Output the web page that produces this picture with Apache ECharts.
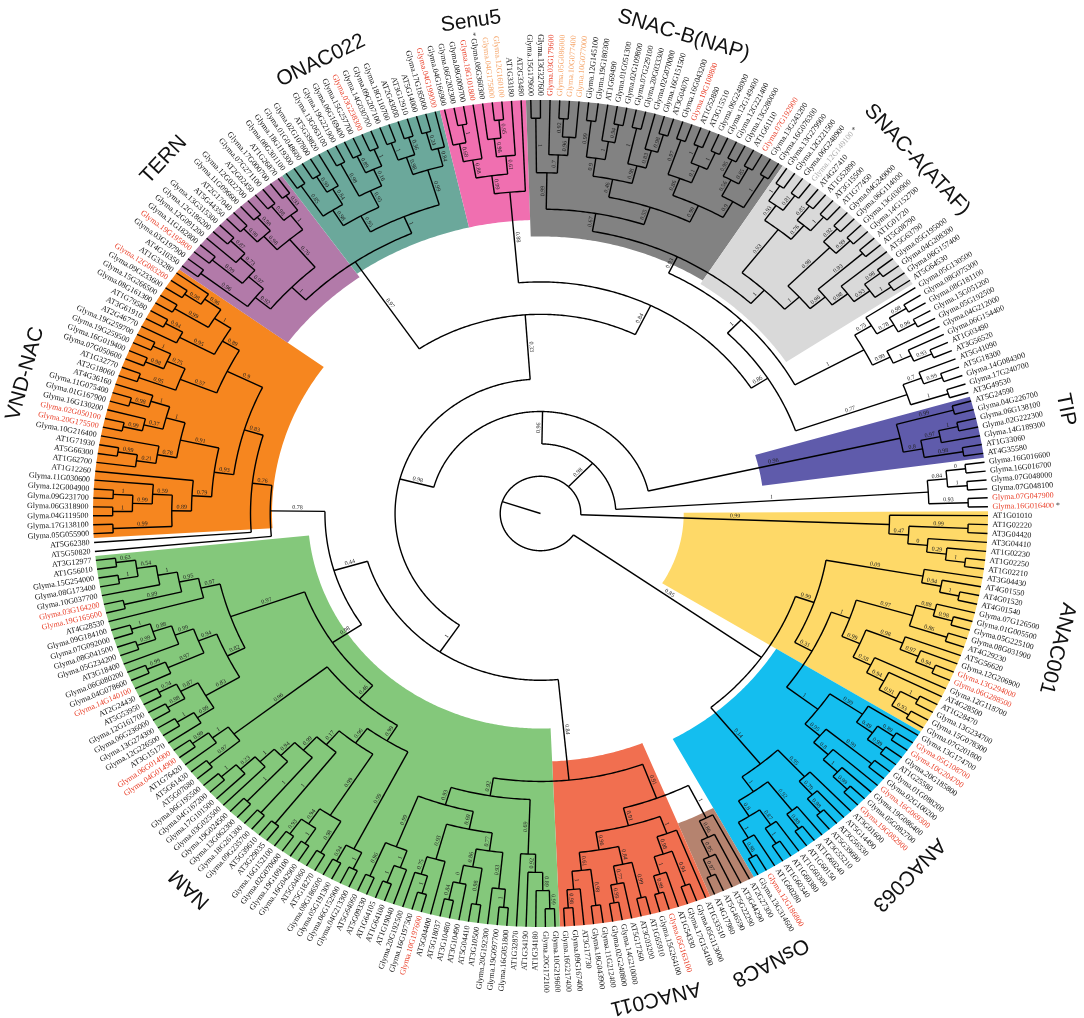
<!DOCTYPE html>
<html>
<head>
<meta charset="utf-8">
<title>NAC family tree</title>
<script src="https://cdn.jsdelivr.net/npm/echarts/dist/echarts.min.js"></script>
<style>
  html, body { margin: 0; padding: 0; background: #fff; }
  #tree { width: 1084px; height: 1018px; }
</style>
</head>
<body>
<div id="tree"></div>
<script>
// subtrees in bracket notation, leaves listed clockwise,
// the number after ")" is the support value of that node
const anac001a = "(AT1G01010,((AT1G02220,AT3G04420)0.99,(AT3G04410,(AT1G02230,(AT1G02250,AT1G02210)1)0.29)0)0.47)0.99";
const anac001b = "(AT3G04430,(AT4G01550,(AT4G01520,AT4G01540)1)0.94)0.09";
const anac001c = "((Glyma.07G126500,(Glyma.01G005500,Glyma.05G225100)0.98)0.88,(Glyma.08G031900,AT4G29230)0.86)0.97";
const anac001d = "((AT5G56620,(Glyma.12G206900,(Glyma.13G294000,Glyma.06G288500)0.94)0.97)0.98,(Glyma.12G118700,(AT4G28500,((AT1G28470,Glyma.13G234700)1,(Glyma.15G078300,Glyma.07G201800)0.93)0.91)0.94)0.58)0.99";
const anac063a = "((Glyma.13G174700,((Glyma.05G108700,Glyma.10G204700)0.89,(Glyma.20G185800,AT1G25580)0.99)0.49)0.99,((Glyma.01G088200,Glyma.02G100200)0.99,(Glyma.16G069300,(Glyma.19G086400,(Glyma.05G082700,Glyma.19G082900)0.99)1)0.8)0.95)1";
const anac063b = "((AT3G01600,(AT5G14490,(AT3G56530,AT5G39690)0.98)0.79)0.95,((AT3G55210,(AT1G60240,AT1G60150)0.88)0.92,((AT1G60300,(AT1G60380,AT1G60340)1)0.87,(AT1G60280,(Glyma.12G186800,Glyma.13G314600)0.86)1)0.8)1)0.14";
const osnac8 = "(AT2G27300,(AT3G44290,(AT5G22290,(AT5G46590,AT4G17980)0.97)0.95)0.86)1";
const anac011 = "((AT1G33510,((Glyma.05G113000,Glyma.17G154100)0.94,(AT1G54330,(Glyma.05G163100,Glyma.15G264100)0.99)1)0.98)1,(((AT1G65910,AT3G03200)0.99,(AT5G17260,(Glyma.14G210000,Glyma.02G240800)0.99)0.77)0.84,((Glyma.11G212400,Glyma.18G043900)0.98,(AT3G17730,(Glyma.09G167400,Glyma.16G217400)0.98)1)0.61)0.96)0.91";
const namA = "((((Glyma.10G219600,Glyma.20G172100)0.99,AT1G34180)0.89,AT1G34190)0.92,AT1G32870)0.69";
const namB = "(((Glyma.16G051800,Glyma.19G097700)1,Glyma.20G192300)0.93,((AT3G10500,AT5G04410)0.98,(AT3G10490,(AT3G10480,AT5G18037)0.84)0)0.86)0.77";
const namC = "(AT5G04400,((Glyma.10G197600,Glyma.16G197500)1,Glyma.20G192500)0.75)0.93";
const namD = "((AT1G19040,(AT1G64100,AT1G64105)1)1,(AT5G09330,AT5G64060)0.96)0.99";
const namE = "((Glyma.04G213300,Glyma.06G152900)1,(Glyma.05G191300,Glyma.08G186500)0.94)0.99";
const namF = "((AT5G18270,AT5G04060)0.98,((Glyma.16G042900,Glyma.19G109100)1,(Glyma.02G070600,Glyma.16G152100)0.93)0.94)0.99";
const namG = "((AT3G29035,AT5G39610)1,((Glyma.09G235700,Glyma.18G261300)1,((Glyma.13G062300,Glyma.19G024500)1,(Glyma.03G025500,(Glyma.17G101500,(Glyma.04G167200,Glyma.06G195500)1)0.23)1)0.94)0.99)0.17";
const namH = "((AT5G07680,AT5G61430)0.97,(AT1G76420,(Glyma.04G014900,Glyma.06G014900)0.99)1)0.96";
const namI = "((AT3G15170,(Glyma.12G226500,Glyma.13G274300)1)0.99,((Glyma.06G236000,Glyma.12G161700)0.98,(AT5G53950,AT2G24430)0.74)0.87)0.83";
const namJ = "((Glyma.14G140100,(Glyma.04G078600,Glyma.06G080200)0.99)0.97,(AT3G18400,((Glyma.05G234200,Glyma.08G041500)0.99,(Glyma.07G092000,Glyma.09G184100)1)0.88)0.99)0.94";
const namK = "(AT4G28530,((Glyma.19G165600,Glyma.03G164200)0.89,(Glyma.10G037700,((Glyma.08G173400,Glyma.15G254000)1,(AT1G56010,AT3G12977)0.63)0.54)1)0.95)0.97";
const vndA = "(((Glyma.05G055900,Glyma.17G138100)0.99,(((Glyma.04G119500,Glyma.06G318900)1,(Glyma.09G231700,Glyma.12G004900)1)0.99,Glyma.11G030600)0.59)0.89,AT1G12260)0.79";
const vndB = "(((AT1G62700,(AT5G66300,AT1G71930)0.99)0.21,Glyma.10G216400)0.78,(((Glyma.20G175500,Glyma.02G050100)0.99,Glyma.16G130200)0.37,((Glyma.01G167900,Glyma.11G075400)0.98,AT4G36160)1)1)0.91";
const vndC = "((AT2G18060,AT1G32770)0.95,((Glyma.07G050600,Glyma.16G019400)0.98,(Glyma.19G259500,Glyma.19G259700)1)0.75)0.57";
const vndD = "((AT2G46770,(AT3G61910,AT1G79580)0.94)0.95,((Glyma.08G161300,Glyma.15G266500)0.99,((Glyma.09G233600,Glyma.12G083200)0.98,AT1G33280)0.96)1)0.89";
const tern = "(((AT4G10350,Glyma.03G197900)0.96,((Glyma.19G195800,Glyma.11G182800)0.99,(Glyma.12G091200,(Glyma.12G186200,Glyma.13G315300)0.87)0.73)0.97)0.92,(((AT5G44350,AT2G17040)0.98,(Glyma.11G096600,Glyma.12G022700)0.98)0.98,((AT2G02450,Glyma.07G271100)0.98,(Glyma.17G000700,AT1G26870)0.93)1)0.76)1";
const onac022 = "((((Glyma.08G301100,Glyma.18G119300)0.85,((Glyma.01G048600,Glyma.02G107800)0.99,AT5G39820)0.84)0.98,((Glyma.13G063100,Glyma.19G221900)0.98,((Glyma.06G169400,Glyma.15G257700)0.89,(Glyma.03G238300,Glyma.14G030700)1)0.16)0.95)0.95,(((Glyma.09G207100,Glyma.18G110700)1,(AT2G43000,AT3G12910)0.36)0.98,((AT5G14000,Glyma.17G185000)0.24,Glyma.04G199000)0.84)0.99)1";
const senu5 = "((((Glyma.04G166900,(Glyma.06G202300,Glyma.08G009700)1)0.68,Glyma.18G101800)0.88,((Glyma.08G360300,(Glyma.04G175800,Glyma.12G160100)0.95)0.96,AT1G33180)0.61)0.99,AT2G33480)0.88";
const snacB = "(((Glyma.15G179600,Glyma.13G327600)1,(Glyma.03G179600,((Glyma.05G086000,Glyma.10G077400)0.92,Glyma.10G077000)0.96)0.7)0.99,((((Glyma.12G145100,Glyma.19G180300)0.99,(AT1G69490,(Glyma.01G051300,Glyma.02G109800)0.94)1)0.9,((Glyma.07G229100,Glyma.20G033300)1,(Glyma.02G070000,(Glyma.16G151500,AT3G04070)0.98)0.83)0.98)0.46,(((Glyma.16G043200,Glyma.19G108800)0.97,((AT1G52880,AT3G15510)1,(Glyma.06G248000,Glyma.12G149400)1)0.1)0.86,(((Glyma.12G221400,Glyma.13G280000)0.95,(AT1G61110,Glyma.07G192900)0.85)0.56,(Glyma.13G243200,Glyma.16G076300)1)0.9)0.99)0.55)0.67";
const snacA = "((((Glyma.13G279900,Glyma.12G221500)1,(Glyma.06G248900,Glyma.12G149100)0.81)0.93,((AT4G27410,AT1G52890)0.85,(AT3G15500,AT1G77450)1)0.76)0.93,(((Glyma.04G249000,Glyma.06G114000)0.92,(Glyma.13G030900,Glyma.14G152700)0.99)0.98,((AT1G01720,AT5G08790)0.93,(AT5G63790,((Glyma.05G195000,Glyma.04G208300)0.98,(Glyma.06G157400,AT5G64530)1)0.93)0.98)0.96)1)1";
const openA = "((Glyma.05G130500,((Glyma.08G075300,Glyma.08G181100)0.98,(Glyma.15G051200,Glyma.05G192500)0.96)0.78)0.75,(Glyma.04G212000,(Glyma.06G154400,(AT1G03490,AT3G56520)0.93)1)0.99)1";
const openB = "((AT5G41090,(AT5G18300,Glyma.14G084300)0.99)0.7,(Glyma.17G240700,AT3G49530)1)0.77";
const tip = "((AT5G24590,Glyma.04G226700)0.99,(((Glyma.06G138100,Glyma.02G222300)1,Glyma.14G189300)0.97,(AT1G33060,AT4G35580)0.98)0.8)0.96";
const lastGroup = "(((Glyma.16G016600,Glyma.16G016700)0,(Glyma.07G048000,Glyma.07G048100)1)0.84,(Glyma.07G047900,Glyma.16G016400)0.93)1";

// how the subtrees hang together (root children clockwise: 0.85 group, the rest, first ANAC001 group)
const yellowBlue = `((${anac001b},((${anac001c},${anac001d})1,${anac063a})0.31)0.99,${anac063b})0.85`;
const namBottom = `(${namA},((${namB},${namC})0.69,${namD})0.93)0.92`;
const namTop = `(((${namE},(${namF},${namG})0.96)0.99,${namH})0.46,((${namI},${namJ})0.82,${namK})0.97)0.98`;
const vndNac = `((${vndA},${vndB})0.93,(${vndC},${vndD})0.9)0.83`;
const lower = `(((${osnac8},${anac011})0.91,${namBottom})0.84,(${namTop},(AT5G50820,(AT5G62380,${vndNac})0.76)0.78)0.44)1`;
const upper = `((${tern},${onac022})0.97,(${senu5},(((${snacB},${snacA})0.93,${openA})1,${openB})0.86)0.84)0.33`;
const fullTree = `(${yellowBlue},(((${lower},${upper})0.98,${tip})0.96,${lastGroup})0.98,${anac001a})`;
const firstLeaf = "AT1G01010";

// clade bands and names
const cladeNames = ["ANAC001", "ANAC063", "OsNAC8", "ANAC011", "NAM", "VND-NAC", "TERN", "ONAC022", "Senu5", "SNAC-B(NAP)", "SNAC-A(ATAF)", "TIP"];
const cladeFirst = ["AT1G01010", "Glyma.13G174700", "AT2G27300", "AT1G33510", "Glyma.10G219600", "Glyma.05G055900", "AT4G10350", "Glyma.08G301100", "Glyma.04G166900", "Glyma.15G179600", "Glyma.13G279900", "AT5G24590"];
const cladeLast = ["Glyma.07G201800", "Glyma.13G314600", "AT4G17980", "Glyma.16G217400", "AT3G12977", "AT1G33280", "AT1G26870", "Glyma.04G199000", "AT2G33480", "Glyma.16G076300", "AT5G64530", "AT4G35580"];

// highlighted leaf labels
const redLabels = ["Glyma.13G294000", "Glyma.06G288500", "Glyma.05G108700", "Glyma.10G204700", "Glyma.16G069300", "Glyma.19G082900", "Glyma.12G186800", "Glyma.05G163100", "Glyma.10G197600", "Glyma.04G014900", "Glyma.06G014900", "Glyma.14G140100", "Glyma.19G165600", "Glyma.03G164200", "Glyma.20G175500", "Glyma.02G050100", "Glyma.12G083200", "Glyma.19G195800", "Glyma.03G238300", "Glyma.04G199000", "Glyma.18G101800", "Glyma.03G179600", "Glyma.19G108800", "Glyma.07G192900", "Glyma.07G047900", "Glyma.16G016400"];
const paleOrangeLabels = ["Glyma.04G175800", "Glyma.12G160100", "Glyma.05G086000", "Glyma.10G077400", "Glyma.10G077000"];
const paleGreyLabels = ["Glyma.12G149100"];
const starLabels = ["Glyma.08G360300", "Glyma.12G149100", "Glyma.16G016400"];

// ---- styling
const cladeColors = ["#FED968", "#14BEEF", "#B5836F", "#F16F50", "#84C87B", "#F6861F", "#B27AA9", "#6BA89B", "#F06FB0", "#828282", "#D9D9D9", "#5F5BAB"];
const cladeInner = [0.32, 0.62, 0.81, 0.6, 0.52, 0.6, 0.7, 0.71, 0.71, 0.67, 0.66, 0.5];
const FIRST_DEG = -0.3;
const STEP_R = 0.044, KNEE = 10, ROOT_R = 0.09;
const LABEL_R = 1.01, CLADE_R = 1.2;
const LEAF_FONT = '8px "Liberation Serif", "Times New Roman", serif';
const SUPPORT_FONT = '6px "Liberation Serif", "Times New Roman", serif';
const CLADE_FONT = '21px "Liberation Sans", Arial, sans-serif';

function parseTree(src) {
  const s = src.replace(/\s+/g, "");
  let i = 0;
  function readLabel() {
    let t = "";
    while (i < s.length && s[i] !== "," && s[i] !== ")") t += s[i++];
    return t;
  }
  function node() {
    const n = { children: [] };
    if (s[i] === "(") {
      i++;
      n.children.push(node());
      while (s[i] === ",") { i++; n.children.push(node()); }
      i++;
      n.support = readLabel();
    } else {
      n.name = readLabel();
    }
    return n;
  }
  return node();
}

const root = parseTree(fullTree);
const nodes = [], leaves = [];
(function walk(n, parent) {
  n.parent = parent;
  nodes.push(n);
  if (!n.children.length) { n.h = 0; leaves.push(n); return; }
  n.children.forEach(c => walk(c, n));
  n.h = 1 + Math.max(...n.children.map(c => c.h));
})(root, null);

const N = leaves.length;
const STEP_A = 360 / N;
const firstIdx = leaves.findIndex(l => l.name === firstLeaf);
const startDeg = FIRST_DEG - 360 + firstIdx * STEP_A;
leaves.forEach((l, i) => { l.a = startDeg - i * STEP_A; });
(function angle(n) {
  if (!n.children.length) return;
  n.children.forEach(angle);
  n.a = (n.children[0].a + n.children[n.children.length - 1].a) / 2;
})(root);
const H = root.h;
const rKnee = 1 - STEP_R * KNEE;
nodes.forEach(n => {
  n.r = n.h <= KNEE ? 1 - STEP_R * n.h : rKnee - (n.h - KNEE) * (rKnee - ROOT_R) / (H - KNEE);
});
const byName = {};
leaves.forEach(l => { byName[l.name] = l; });

// clade angular range, clockwise from first to last leaf (may wrap past the start)
function cladeRange(i) {
  let a0 = byName[cladeFirst[i]].a;
  const a1 = byName[cladeLast[i]].a;
  if (a0 < a1) a0 += 360;
  return [a0, a1];
}

function toXY(r, deg) {
  const t = deg * Math.PI / 180;
  return [r * Math.cos(t), r * Math.sin(t)];
}
function px(api, r, deg) { return api.coord(toXY(r, deg)); }
function arc(api, r, a0, a1) {
  const pts = [];
  const n = Math.max(2, Math.ceil(Math.abs(a1 - a0) / 0.5));
  for (let k = 0; k <= n; k++) pts.push(px(api, r, a0 + (a1 - a0) * k / n));
  return pts;
}
function screenAngle(api, p) {
  const c = api.coord([0, 0]);
  return Math.atan2(c[1] - p[1], p[0] - c[0]);
}
function textRot(phi) {
  const right = Math.cos(phi) >= -1e-6;
  return { right, rot: right ? phi : phi - Math.PI };
}

const lineStyle = { stroke: "#000", lineWidth: 1.4, fill: "none" };

const bandSeries = {
  type: "custom", silent: true, z: 1,
  data: cladeNames.map((c, i) => toXY(0.8, cladeRange(i)[0])),
  renderItem(params, api) {
    const i = params.dataIndex;
    const [f, l] = cladeRange(i);
    const a0 = f + STEP_A / 2, a1 = l - STEP_A / 2;
    const pts = arc(api, 1.0, a0, a1).concat(arc(api, cladeInner[i], a1, a0));
    return { type: "polygon", shape: { points: pts }, style: { fill: cladeColors[i], stroke: "none" } };
  }
};

const branchSeries = {
  type: "custom", silent: true, z: 2,
  data: nodes.map(n => toXY(n.r, n.a)),
  renderItem(params, api) {
    const n = nodes[params.dataIndex];
    const kids = [];
    const r0 = n.parent ? n.parent.r : 0;
    kids.push({ type: "polyline", shape: { points: [px(api, r0, n.a), px(api, n.r, n.a)] }, style: lineStyle });
    if (n.children.length) {
      const first = n.children[0].a, last = n.children[n.children.length - 1].a;
      kids.push({ type: "polyline", shape: { points: arc(api, n.r, first, last) }, style: lineStyle });
    }
    return { type: "group", children: kids };
  }
};

const supported = nodes.filter(n => n.parent && n.children.length && n.support !== "");
const supportSeries = {
  type: "custom", silent: true, z: 3,
  data: supported.map(n => toXY(n.r, n.a)),
  renderItem(params, api) {
    const n = supported[params.dataIndex];
    const p0 = px(api, n.parent.r, n.a), p1 = px(api, n.r, n.a);
    const phi = screenAngle(api, p1);
    const { rot } = textRot(phi);
    const off = 3.6;
    const x = (p0[0] + p1[0]) / 2 + off * Math.cos(rot + Math.PI / 2);
    const y = (p0[1] + p1[1]) / 2 - off * Math.sin(rot + Math.PI / 2);
    return {
      type: "text", x, y, rotation: rot,
      style: { text: n.support, fill: "#222", font: SUPPORT_FONT, align: "center", verticalAlign: "middle", textAlign: "center", textVerticalAlign: "middle" }
    };
  }
};

const leafSeries = {
  type: "custom", silent: true, z: 4,
  data: leaves.map(l => toXY(1, l.a)),
  renderItem(params, api) {
    const l = leaves[params.dataIndex];
    const p = px(api, LABEL_R, l.a);
    const { right, rot } = textRot(screenAngle(api, p));
    let color = "#111";
    if (redLabels.includes(l.name)) color = "#E9402A";
    else if (paleOrangeLabels.includes(l.name)) color = "#F5A468";
    else if (paleGreyLabels.includes(l.name)) color = "#A9A9A9";
    const align = right ? "left" : "right";
    const style = { fill: color, font: LEAF_FONT, align, verticalAlign: "middle", textAlign: align, textVerticalAlign: "middle" };
    if (starLabels.includes(l.name)) {
      style.text = right ? "{n|" + l.name + "} *" : "* {n|" + l.name + "}";
      style.fill = "#333";
      style.rich = { n: { fill: color, font: LEAF_FONT } };
    } else {
      style.text = l.name;
    }
    return { type: "text", x: p[0], y: p[1], rotation: rot, style };
  }
};

const cladeSeries = {
  type: "custom", silent: true, z: 5,
  data: cladeNames.map((c, i) => toXY(1, (cladeRange(i)[0] + cladeRange(i)[1]) / 2)),
  renderItem(params, api) {
    const i = params.dataIndex;
    const [f, l] = cladeRange(i);
    const p = px(api, CLADE_R, (f + l) / 2);
    const phi = screenAngle(api, p);
    return {
      type: "text", x: p[0], y: p[1], rotation: phi - Math.PI / 2,
      style: { text: cladeNames[i], fill: "#111", font: CLADE_FONT, align: "center", verticalAlign: "middle", textAlign: "center", textVerticalAlign: "middle" }
    };
  }
};

const chart = echarts.init(document.getElementById("tree"));
chart.setOption({
  animation: false,
  backgroundColor: "#fff",
  grid: { left: 93, top: 100, width: 895, height: 827 },
  xAxis: { type: "value", min: -1, max: 1, show: false },
  yAxis: { type: "value", min: -1, max: 1, show: false },
  series: [bandSeries, branchSeries, supportSeries, leafSeries, cladeSeries]
});
</script>
</body>
</html>
